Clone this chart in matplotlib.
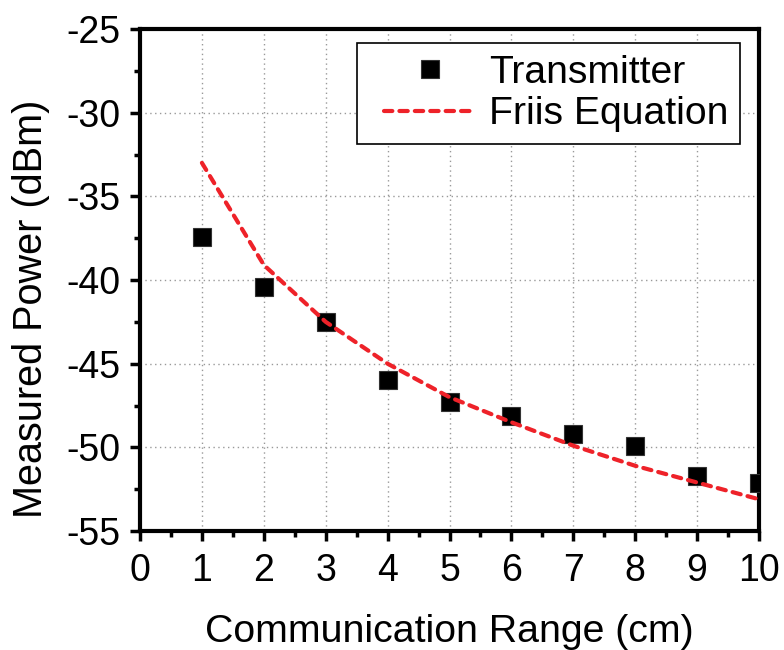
import matplotlib
matplotlib.use("Agg")
import matplotlib.pyplot as plt
from matplotlib.ticker import MultipleLocator
from matplotlib.lines import Line2D
from matplotlib.legend_handler import HandlerLine2D

plt.rcParams['font.family'] = ['Liberation Sans', 'DejaVu Sans']
plt.rcParams['axes.unicode_minus'] = False

# Measured received power vs. distance
distance_cm = [1, 2, 3, 4, 5, 6, 7, 8, 9, 10]
transmitter_dbm = [-37.4, -40.4, -42.5, -46.0, -47.3, -48.1, -49.2, -49.9, -51.7, -52.1]

# Theoretical prediction from the Friis transmission equation
friis_dbm = [-33.0, -39.1, -42.5, -45.0, -47.0, -48.5, -49.9, -51.1, -52.1, -53.1]

x_ticks = [0, 1, 2, 3, 4, 5, 6, 7, 8, 9, 10]
y_ticks = [-55, -50, -45, -40, -35, -30, -25]

fig = plt.figure(figsize=(7.84, 6.5), dpi=100)
ax = fig.add_axes([0.1786, 0.183, 0.7895, 0.7724])

ax.plot(distance_cm, transmitter_dbm, linestyle='none', marker='s', markersize=13,
        color='black', markeredgecolor='#333333', markeredgewidth=0.8,
        label='Transmitter', zorder=3)
ax.plot(distance_cm, friis_dbm, color='#ee2229', linewidth=3.0,
        linestyle=(0, (2.0, 1.7)), dash_capstyle='round',
        label='Friis Equation', zorder=4)

ax.set_xlim(0, 10)
ax.set_ylim(-55, -25)
ax.set_xticks(x_ticks)
ax.set_yticks(y_ticks)
ax.xaxis.set_minor_locator(MultipleLocator(0.5))
ax.yaxis.set_minor_locator(MultipleLocator(2.5))

ax.grid(True, which='major', color='#999999', linestyle=(0, (1, 2.5)), linewidth=1.0)
ax.set_axisbelow(True)

for side in ['left', 'bottom', 'top', 'right']:
    ax.spines[side].set_linewidth(3.0)

ax.tick_params(axis='both', which='major', direction='out', length=7, width=2.5,
               labelsize=27, top=False, right=False)
ax.tick_params(axis='x', which='major', pad=9)
ax.tick_params(axis='y', which='major', pad=7)
ax.tick_params(axis='both', which='minor', direction='out', length=4.5, width=2.5,
               top=False, right=False)

ax.set_xlabel('Communication Range (cm)', fontsize=28.3, labelpad=17.5)
ax.set_ylabel('Measured Power (dBm)', fontsize=28.5)
ax.yaxis.set_label_coords(-0.145, 0.442)

# legend handles sit a little right of the frame's left edge
leg = ax.legend(loc='upper right', bbox_to_anchor=(0.969, 0.972), borderaxespad=0,
                fontsize=28.2, frameon=True, fancybox=False, framealpha=1,
                edgecolor='black', handlelength=2.71, handletextpad=0.36,
                labelspacing=0.14, borderpad=0.3, markerscale=1.0,
                handler_map={Line2D: HandlerLine2D(xpad=0.41)})
leg.get_frame().set_linewidth(1.2)

fig.savefig('out.png', dpi=100)
